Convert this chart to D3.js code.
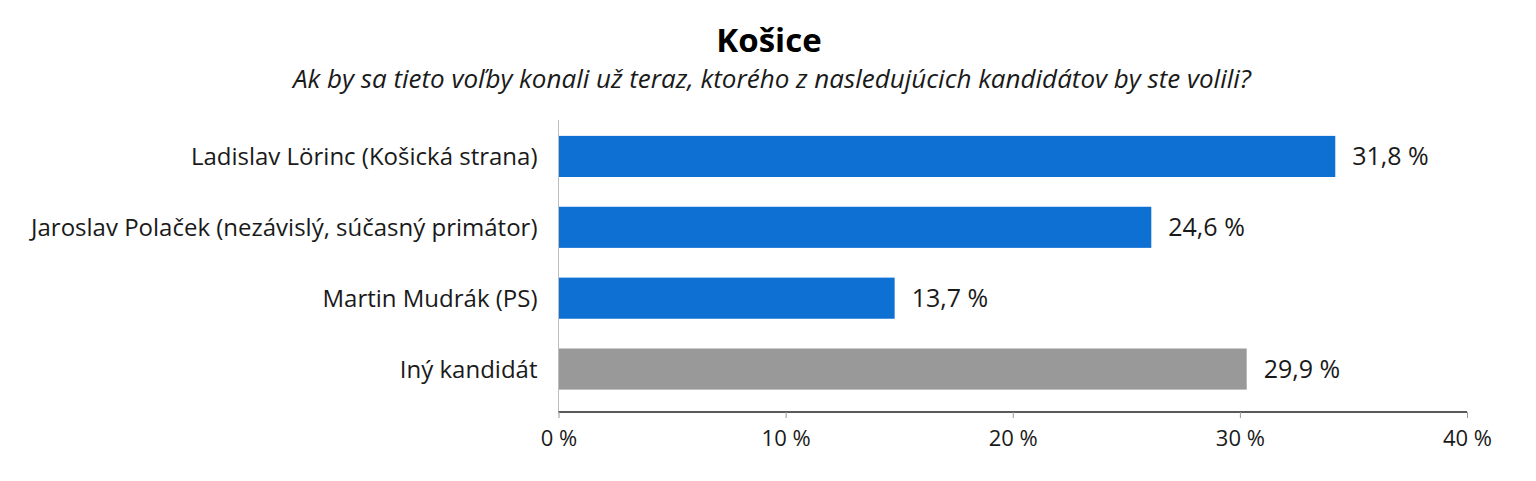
<!DOCTYPE html>
<html>
<head>
<meta charset="utf-8">
<script src="https://cdn.jsdelivr.net/npm/d3@7"></script>
<style>
  body { margin: 0; background: #fff; }
  text { font-family: "Open Sans", sans-serif; fill: #1a1a1a; }
</style>
</head>
<body>
<svg id="chart"></svg>
<script>
var categories = ["Ladislav Lörinc (Košická strana)", "Jaroslav Polaček (nezávislý, súčasný primátor)", "Martin Mudrák (PS)", "Iný kandidát"];
// bar lengths as drawn in the picture
var barValues = [34.2, 26.1, 14.8, 30.3];
// value labels as printed
var labels = ["31,8 %", "24,6 %", "13,7 %", "29,9 %"];
var barColors = ["#0f70d4", "#0f70d4", "#0f70d4", "#999999"];
var ticks = [0, 10, 20, 30, 40];

var width = 1536, height = 481;

var svg = d3.select("#chart")
  .attr("width", width)
  .attr("height", height);

svg.append("text")
  .attr("x", 769).attr("y", 52)
  .attr("text-anchor", "middle")
  .style("font-size", "33px")
  .style("font-weight", "bold")
  .style("fill", "#000")
  .text("Košice");

svg.append("text")
  .attr("x", 772).attr("y", 88)
  .attr("text-anchor", "middle")
  .style("font-size", "26px")
  .style("font-style", "italic")
  .text("Ak by sa tieto voľby konali už teraz, ktorého z nasledujúcich kandidátov by ste volili?");

var x = d3.scaleLinear()
  .domain([0, 40])
  .range([558.5, 1467]);

var y = d3.scaleBand()
  .domain(categories)
  .range([121, 404.5])
  .paddingInner(0.42)
  .paddingOuter(0.21);

// bars
svg.append("g")
  .selectAll("rect")
  .data(categories)
  .enter()
  .append("rect")
    .attr("x", x(0))
    .attr("y", function (d) { return y(d); })
    .attr("width", function (d, i) { return x(barValues[i]) - x(0); })
    .attr("height", y.bandwidth())
    .style("fill", function (d, i) { return barColors[i]; });

// value labels
svg.append("g")
  .selectAll("text")
  .data(categories)
  .enter()
  .append("text")
    .attr("x", function (d, i) { return x(barValues[i]) + 17; })
    .attr("y", function (d) { return y(d) + y.bandwidth() / 2; })
    .attr("dy", "0.36em")
    .style("font-size", "25px")
    .text(function (d, i) { return labels[i]; });

// category axis
var y_axis = svg.append("g")
  .attr("transform", "translate(" + x(0) + ",0)")
  .call(d3.axisLeft(y).tickSize(0).tickPadding(21));
y_axis.select(".domain").attr("stroke", "#bdbdbd").attr("d", "M0,120V412");
y_axis.selectAll(".tick text")
  .attr("dy", "0.37em")
  .style("font-size", "24px")
  .style("font-family", "Open Sans, sans-serif")
  .style("fill", "#1a1a1a");

// value axis
var x_axis = svg.append("g")
  .attr("transform", "translate(0,412)")
  .call(d3.axisBottom(x).tickValues(ticks).tickSize(6).tickPadding(12)
    .tickFormat(function (d) { return d + " %"; }));
x_axis.select(".domain").attr("stroke", "#222").attr("stroke-width", 1.5).attr("d", "M" + x(0) + ",0H" + x(40));
x_axis.selectAll(".tick line").attr("stroke", "#999");
x_axis.selectAll(".tick text")
  .style("font-size", "22px")
  .style("font-family", "Open Sans, sans-serif")
  .style("fill", "#1a1a1a");
</script>
</body>
</html>
